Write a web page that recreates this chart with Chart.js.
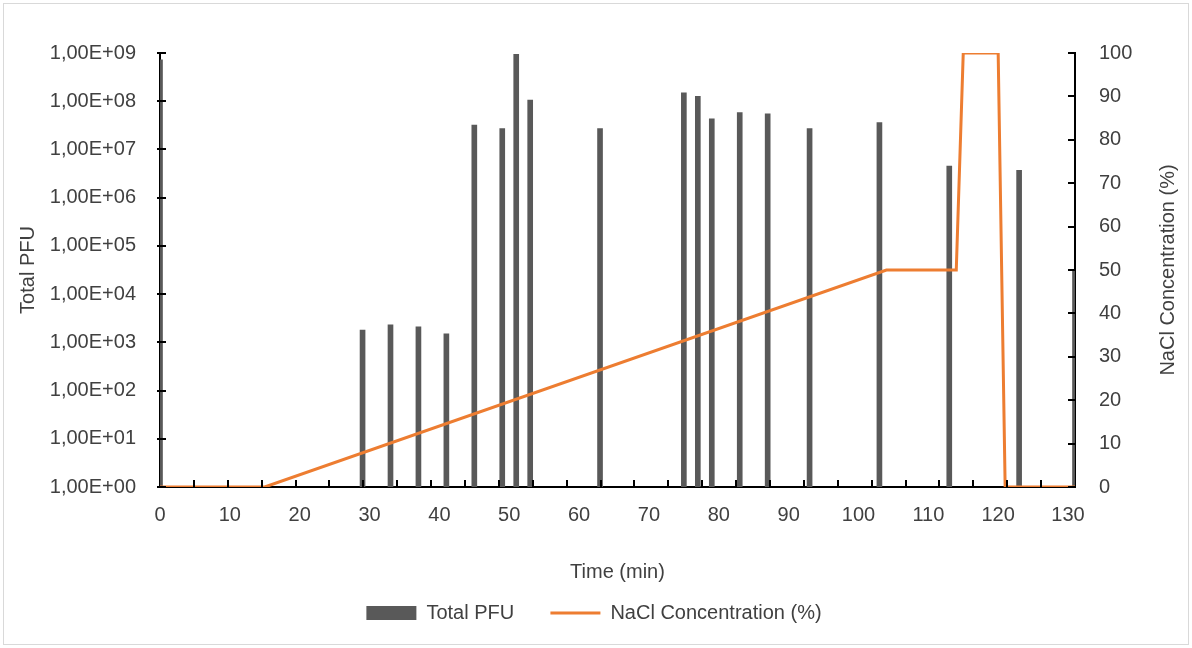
<!DOCTYPE html>
<html>
<head>
<meta charset="utf-8">
<script src="https://cdn.jsdelivr.net/npm/chart.js@4.4.0/dist/chart.umd.min.js"></script>
<style>
    html, body { margin: 0; padding: 0; background: #fff; }
    #frame { position: absolute; left: 3px; top: 3px; width: 1184px; height: 640px; border: 1px solid #d9d9d9; }
    canvas { display: block; }
</style>
</head>
<body>
<div id="frame"><canvas id="chart" width="1184" height="640"></canvas></div>
<script>
// 采样时间 (min) 与噬菌体总量
const pfuTimes = [0, 29, 33, 37, 41, 45, 49, 51, 53, 63, 75, 77, 79, 83, 87, 93, 103, 113, 123, 131];
const pfuValues = [7.2e8, 1.8e3, 2.3e3, 2.1e3, 1.5e3, 3.2e7, 2.7e7, 9.4e8, 1.05e8, 2.7e7,
                   1.5e8, 1.26e8, 4.3e7, 5.8e7, 5.5e7, 2.7e7, 3.6e7, 4.5e6, 3.7e6, 3.2e4];

// NaCl 梯度 (%)
const naclTimes = [0, 15, 104, 114, 115, 120, 121, 131];
const naclValues = [0, 0, 50, 50, 100, 100, 0, 0];

// 刻度
const xTickLabels = [0, 10, 20, 30, 40, 50, 60, 70, 80, 90, 100, 110, 120, 130];
const pfuTickValues = [1, 1e1, 1e2, 1e3, 1e4, 1e5, 1e6, 1e7, 1e8, 1e9];
const naclTickValues = [0, 10, 20, 30, 40, 50, 60, 70, 80, 90, 100];
const xMax = 131;
const xMinorCount = 27;

const FONT = "'Liberation Sans', Arial, sans-serif";
const TEXT = '#404040';
const BAR = '#595959';
const ORANGE = '#ED7D31';

// 1,00E+09 这种格式
function sci(v) {
    const parts = v.toExponential(2).split('e');
    const e = parseInt(parts[1], 10);
    return parts[0].replace('.', ',') + 'E' + (e < 0 ? '-' : '+') + String(Math.abs(e)).padStart(2, '0');
}

Chart.defaults.font.family = FONT;
Chart.defaults.font.size = 20;
Chart.defaults.color = TEXT;

// 内侧刻度线 + 右侧轴标题 (自下而上)
const axisMarks = {
    id: 'axisMarks',
    afterDraw(chart) {
        const { ctx, chartArea: a, scales } = chart;
        ctx.save();
        ctx.strokeStyle = '#000';
        ctx.lineWidth = 2;
        ctx.beginPath();
        for (let k = 1; k < xMinorCount; k++) {
            const px = Math.round(scales.x.getPixelForValue(k * xMax / xMinorCount));
            ctx.moveTo(px, a.bottom);
            ctx.lineTo(px, a.bottom - 7);
        }
        pfuTickValues.forEach(v => {
            const py = Math.round(scales.y.getPixelForValue(v));
            ctx.moveTo(a.left - 3, py);
            ctx.lineTo(a.left + 6, py);
        });
        naclTickValues.forEach(v => {
            const py = Math.round(scales.y2.getPixelForValue(v));
            ctx.moveTo(a.right, py);
            ctx.lineTo(a.right - 7, py);
        });
        ctx.stroke();

        ctx.fillStyle = TEXT;
        ctx.font = '20px ' + FONT;
        ctx.textAlign = 'center';
        ctx.textBaseline = 'middle';
        ctx.translate(scales.y2.right - 10, (a.top + a.bottom) / 2);
        ctx.rotate(-Math.PI / 2);
        ctx.fillText('NaCl Concentration (%)', 0, 0);
        ctx.restore();
    }
};

const ctx = document.getElementById('chart').getContext('2d');
const chart = new Chart(ctx, {
    type: 'bar',
    data: {
        datasets: [{
            type: 'bar',
            label: 'Total PFU',
            data: pfuTimes.map((t, i) => ({ x: t, y: pfuValues[i] })),
            backgroundColor: BAR,
            borderWidth: 0,
            barThickness: 5,
            yAxisID: 'y',
            order: 2
        }, {
            type: 'line',
            label: 'NaCl Concentration (%)',
            data: naclTimes.map((t, i) => ({ x: t, y: naclValues[i] })),
            borderColor: ORANGE,
            backgroundColor: ORANGE,
            borderWidth: 3,
            pointRadius: 0,
            tension: 0,
            yAxisID: 'y2',
            order: 1
        }]
    },
    options: {
        responsive: false,
        animation: false,
        layout: { padding: { left: 6, right: 10, top: 49, bottom: 11 } },
        plugins: {
            tooltip: { enabled: false },
            legend: {
                position: 'bottom',
                labels: {
                    usePointStyle: true,
                    pointStyleWidth: 50,
                    boxHeight: 14,
                    padding: 14,
                    sort: (a, b) => a.datasetIndex - b.datasetIndex,
                    generateLabels: function(chart) {
                        const items = Chart.defaults.plugins.legend.labels.generateLabels(chart);
                        items.forEach(it => {
                            if (it.datasetIndex === 0) {
                                it.pointStyle = 'rect';
                                it.fillStyle = BAR;
                                it.lineWidth = 0;
                                it.text = 'Total PFU    ';
                            } else {
                                it.pointStyle = 'line';
                                it.strokeStyle = ORANGE;
                                it.lineWidth = 3;
                            }
                        });
                        return items;
                    }
                }
            }
        },
        scales: {
            x: {
                type: 'linear',
                min: 0,
                max: xMax,
                offset: false,
                grid: { display: false, drawTicks: false },
                border: { display: true, color: '#000', width: 2 },
                ticks: { padding: 16, maxRotation: 0, autoSkip: false },
                afterBuildTicks: s => { s.ticks = xTickLabels.map(v => ({ value: v })); },
                title: { display: true, text: 'Time (min)', padding: { top: 0, bottom: 5 } },
                afterFit: s => { s.height = 102; }
            },
            y: {
                type: 'logarithmic',
                position: 'left',
                min: 1,
                max: 1e9,
                grid: { display: false, drawTicks: false },
                border: { display: true, color: '#000', width: 2 },
                ticks: { padding: 24, callback: v => sci(v) },
                afterBuildTicks: s => { s.ticks = pfuTickValues.map(v => ({ value: v })); },
                title: { display: true, text: 'Total PFU', padding: { top: 6, bottom: 0 } },
                afterFit: s => { s.width = 150; }
            },
            y2: {
                type: 'linear',
                position: 'right',
                min: 0,
                max: 100,
                grid: { display: false, drawTicks: false },
                border: { display: true, color: '#000', width: 2 },
                ticks: { padding: 24 },
                afterBuildTicks: s => { s.ticks = naclTickValues.map(v => ({ value: v })); },
                afterFit: s => { s.width = 103; }
            }
        }
    },
    plugins: [axisMarks]
});
</script>
</body>
</html>
